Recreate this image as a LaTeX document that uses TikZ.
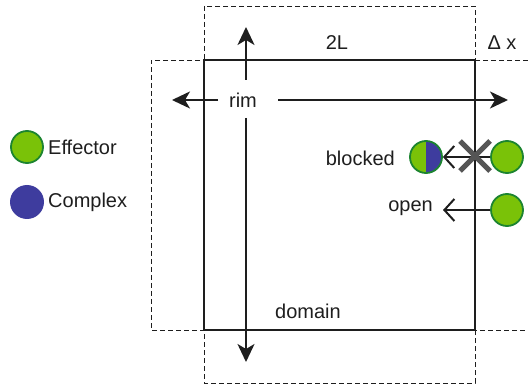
\documentclass[tikz,border=0pt]{standalone}
\usepackage{fontspec}
\setmainfont{Liberation Sans}
\usetikzlibrary{arrows.meta}
\definecolor{effgreen}{RGB}{122,194,8}
\definecolor{effring}{RGB}{28,132,48}
\definecolor{cplxblue}{RGB}{62,60,158}
\definecolor{crossgray}{RGB}{85,85,85}
\definecolor{ink}{RGB}{30,30,30}
\begin{document}
\begin{tikzpicture}[x=1pt,y=-1pt,
  lbl/.style={font=\fontsize{20}{24}\selectfont, text=ink, inner sep=0pt},
  effector/.style={circle, minimum size=32pt, inner sep=0pt, fill=effgreen, draw=effring, line width=1.8pt},
  complexball/.style={circle, minimum size=34pt, inner sep=0pt, fill=cplxblue},
  halfball/.style={circle, minimum size=32pt, inner sep=0pt, fill=effgreen, draw=effring, line width=1.8pt,
    path picture={\fill[cplxblue] (path picture bounding box.north) rectangle (path picture bounding box.south east);}},
  frame/.style={dashed, dash pattern=on 5pt off 3pt, line width=0.9pt, draw=ink},
  mainarrow/.style={line width=2pt, draw=ink, -{Stealth[length=18pt,width=17pt,inset=5pt]}},
  entry/.style={line width=2pt, draw=ink, -{Straight Barb[length=10pt,width=22pt,line width=2pt]}}]
\useasboundingbox (0,0) rectangle (528,385);

% periodic copies of the domain (dashed)
\draw[frame] (204,6) rectangle (475,383);
\draw[frame] (528,60) -- (151,60) -- (151,330) -- (528,330);
% the domain itself
\draw[line width=2pt, draw=ink] (204,60) rectangle (475,330);

% labels of the domain
\node[lbl] (twoL) at (337,43) {2L};
\node[lbl] (dx) at (502,43) {Δ x};
\node[lbl] (domain) at (308,311) {domain};
\node[lbl] (rim) at (243,100) {rim};

% exits through the rim
\coordinate (rimN) at (246,80);
\coordinate (rimS) at (246,118);
\coordinate (rimW) at (218,100);
\coordinate (rimE) at (278,100);
\coordinate (topEnd) at (246,27);
\coordinate (botEnd) at (246,362);
\coordinate (leftEnd) at (172,100);
\coordinate (rightEnd) at (508,100);
\draw[mainarrow] (rimN) -- (topEnd);
\draw[mainarrow] (rimS) -- (botEnd);
\draw[mainarrow] (rimW) -- (leftEnd);
\draw[mainarrow] (rimE) -- (rightEnd);

% legend
\node[effector] (legEff) at (27,147) {};
\node[lbl, anchor=west] (legEffTxt) at (48,147) {Effector};
\node[complexball] (legCplx) at (27,202) {};
\node[lbl, anchor=west] (legCplxTxt) at (48,202) {Complex};

% blocked entry
\node[halfball] (blk) at (426,157) {};
\node[lbl, anchor=east] (blkTxt) at (395,158) {blocked};
\node[effector] (eff1) at (507,157) {};
\draw[entry] (eff1.west) -- (blk.east);
\coordinate (cross) at (475,156);
\draw[crossgray, line width=5pt] ([shift={(-15,-15)}]cross) -- ([shift={(15,15)}]cross);
\draw[crossgray, line width=5pt] ([shift={(-15,15)}]cross) -- ([shift={(15,-15)}]cross);

% open entry
\node[effector] (eff2) at (507,210) {};
\node[lbl, anchor=east] (openTxt) at (433,208) {open};
\coordinate (openTip) at (443,210);
\draw[entry] (eff2.west) -- (openTip);
\end{tikzpicture}
\end{document}
